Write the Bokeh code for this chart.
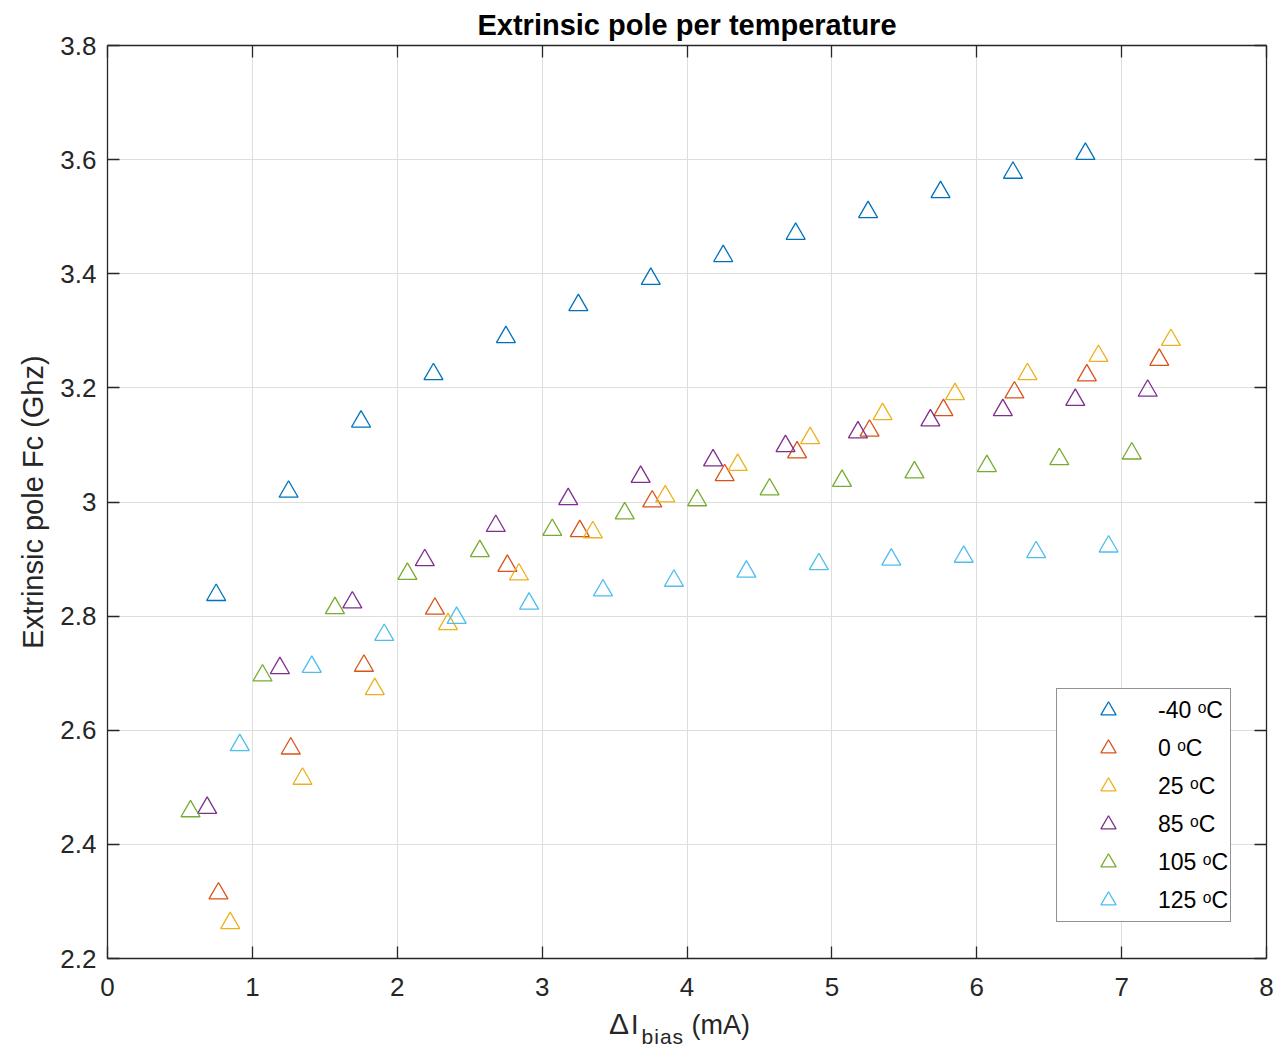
from bokeh.plotting import figure
from bokeh.models import (LinearAxis, Legend, LegendItem, FixedTicker, Range1d, Div)
from bokeh.layouts import column
from bokeh.embed import file_html
from bokeh.resources import INLINE

# ---------------- data ----------------
temps = ["-40 ᵒC", "0 ᵒC", "25 ᵒC", "85 ᵒC", "105 ᵒC", "125 ᵒC"]
colors = ["#0072BD", "#D95319", "#EDB120", "#7E2F8E", "#77AC30", "#4DBEEE"]

x_m40 = [0.75, 1.25, 1.75, 2.25, 2.75, 3.25, 3.75, 4.25, 4.75, 5.25, 5.75, 6.25, 6.75]
y_m40 = [2.837, 3.018, 3.141, 3.224, 3.289, 3.345, 3.391, 3.431, 3.470, 3.508, 3.543, 3.577, 3.610]

x_0 = [0.766, 1.265, 1.77, 2.26, 2.76, 3.26, 3.76, 4.26, 4.76, 5.26, 5.77, 6.26, 6.76, 7.26]
y_0 = [2.314, 2.568, 2.713, 2.813, 2.888, 2.949, 3.001, 3.047, 3.087, 3.125, 3.161, 3.192, 3.222, 3.249]

x_25 = [0.847, 1.346, 1.845, 2.35, 2.84, 3.35, 3.85, 4.35, 4.85, 5.35, 5.85, 6.35, 6.84, 7.34]
y_25 = [2.262, 2.515, 2.672, 2.786, 2.873, 2.947, 3.010, 3.065, 3.112, 3.154, 3.189, 3.224, 3.256, 3.284]

x_85 = [0.688, 1.19, 1.69, 2.19, 2.68, 3.18, 3.68, 4.18, 4.68, 5.18, 5.68, 6.18, 6.68, 7.18]
y_85 = [2.464, 2.709, 2.824, 2.898, 2.958, 3.005, 3.044, 3.073, 3.098, 3.122, 3.143, 3.161, 3.179, 3.195]

x_105 = [0.573, 1.07, 1.57, 2.07, 2.57, 3.07, 3.57, 4.07, 4.57, 5.07, 5.57, 6.07, 6.57, 7.07]
y_105 = [2.458, 2.696, 2.814, 2.874, 2.914, 2.951, 2.980, 3.003, 3.022, 3.037, 3.052, 3.063, 3.075, 3.085]

x_125 = [0.913, 1.41, 1.91, 2.41, 2.91, 3.42, 3.91, 4.41, 4.91, 5.41, 5.91, 6.41, 6.91]
y_125 = [2.574, 2.711, 2.767, 2.797, 2.822, 2.845, 2.862, 2.878, 2.891, 2.899, 2.904, 2.912, 2.922]

x_ticks = [0, 1, 2, 3, 4, 5, 6, 7, 8]
y_ticks = [2.2, 2.4, 2.6, 2.8, 3.0, 3.2, 3.4, 3.6, 3.8]
y_tick_labels = ["2.2", "2.4", "2.6", "2.8", "3", "3.2", "3.4", "3.6", "3.8"]

series_x = [x_m40, x_0, x_25, x_85, x_105, x_125]
series_y = [y_m40, y_0, y_25, y_85, y_105, y_125]

title_text = "Extrinsic pole per temperature"
ylabel_text = "Extrinsic pole Fc (Ghz)"
xlabel_main = "ΔI"
xlabel_sub = "bias"
xlabel_unit = "(mA)"

# ---------------- figure ----------------
FONT = "Liberation Sans"
AX = "#262626"

p = figure(frame_width=1159, frame_height=913,
           x_range=Range1d(0, 8), y_range=Range1d(2.2, 3.8),
           output_backend="svg", toolbar_location=None,
           min_border_left=107, min_border_right=9,
           min_border_top=45, min_border_bottom=47,
           background_fill_color="white", border_fill_color="white")

p.title.text = title_text
p.title.align = "center"
p.title.text_font = FONT
p.title.text_font_size = "29px"
p.title.text_font_style = "bold"
p.title.text_color = "black"
p.title.standoff = 9
p.title.offset = 0

p.outline_line_color = None

def style_axis(ax, labels=True):
    ax.axis_line_color = AX
    ax.axis_line_width = 1.3
    ax.major_tick_line_color = AX
    ax.major_tick_line_width = 1.3
    ax.major_tick_in = 12
    ax.major_tick_out = 0
    ax.minor_tick_line_color = None
    ax.major_label_text_font = FONT
    ax.major_label_text_color = AX
    if labels:
        ax.major_label_text_font_size = "26px"
    else:
        ax.major_label_text_font_size = "0px"
        ax.major_label_standoff = 0

xa = p.xaxis[0]
ya = p.yaxis[0]
xa.ticker = FixedTicker(ticks=x_ticks)
ya.ticker = FixedTicker(ticks=y_ticks)
ya.major_label_overrides = {v: s for v, s in zip(y_ticks, y_tick_labels)}
style_axis(xa)
style_axis(ya)
xa.major_label_standoff = 19
ya.major_label_standoff = 11
ya.axis_label = ylabel_text
ya.axis_label_text_font = FONT
ya.axis_label_text_font_size = "29px"
ya.axis_label_text_font_style = "normal"
ya.axis_label_text_color = AX
ya.axis_label_standoff = 8

top = LinearAxis(ticker=FixedTicker(ticks=x_ticks))
right = LinearAxis(ticker=FixedTicker(ticks=y_ticks))
style_axis(top, labels=False)
style_axis(right, labels=False)
p.add_layout(top, "above")
p.add_layout(right, "right")

p.xgrid.ticker = FixedTicker(ticks=x_ticks)
p.ygrid.ticker = FixedTicker(ticks=y_ticks)
for g in (p.xgrid[0], p.ygrid[0]):
    g.grid_line_color = "#DEDEDE"
    g.grid_line_width = 1

# ---------------- data marks ----------------
items = []
for xs, ys, c, lab in zip(series_x, series_y, colors, temps):
    r = p.scatter(xs, ys, marker="triangle", size=19, fill_color=None,
                  line_color=c, line_width=1.3)
    items.append(LegendItem(label=lab, renderers=[r]))

legend = Legend(items=items, location=(949, 36),
                padding=2, spacing=0, glyph_height=38, glyph_width=98,
                label_standoff=1, label_height=20,
                label_text_font=FONT, label_text_font_size="23px",
                label_text_color="black",
                border_line_color=AX, border_line_width=1,
                background_fill_color="white", background_fill_alpha=1.0,
                margin=0)
p.add_layout(legend)

# ---------------- x-axis label with subscript (HTML text) ----------------
xlabel_html = (
    f'<div style="margin-left:609px; padding-top:5px; white-space:nowrap; '
    f'font-family:\'{FONT}\'; font-size:27px; line-height:27px; color:{AX};">'
    f'<span style="font-size:30px; margin-right:2px;">{xlabel_main[0]}</span>{xlabel_main[1:]}'
    f'<sub style="font-size:21px; line-height:0; vertical-align:-10px; margin-left:3px; '
    f'letter-spacing:1px;">{xlabel_sub}</sub> {xlabel_unit}</div>'
)
xlabel = Div(text=xlabel_html, width=1275, height=45, margin=0)

layout = column(p, xlabel, spacing=0)

open("out.html", "w").write(file_html(layout, INLINE))
